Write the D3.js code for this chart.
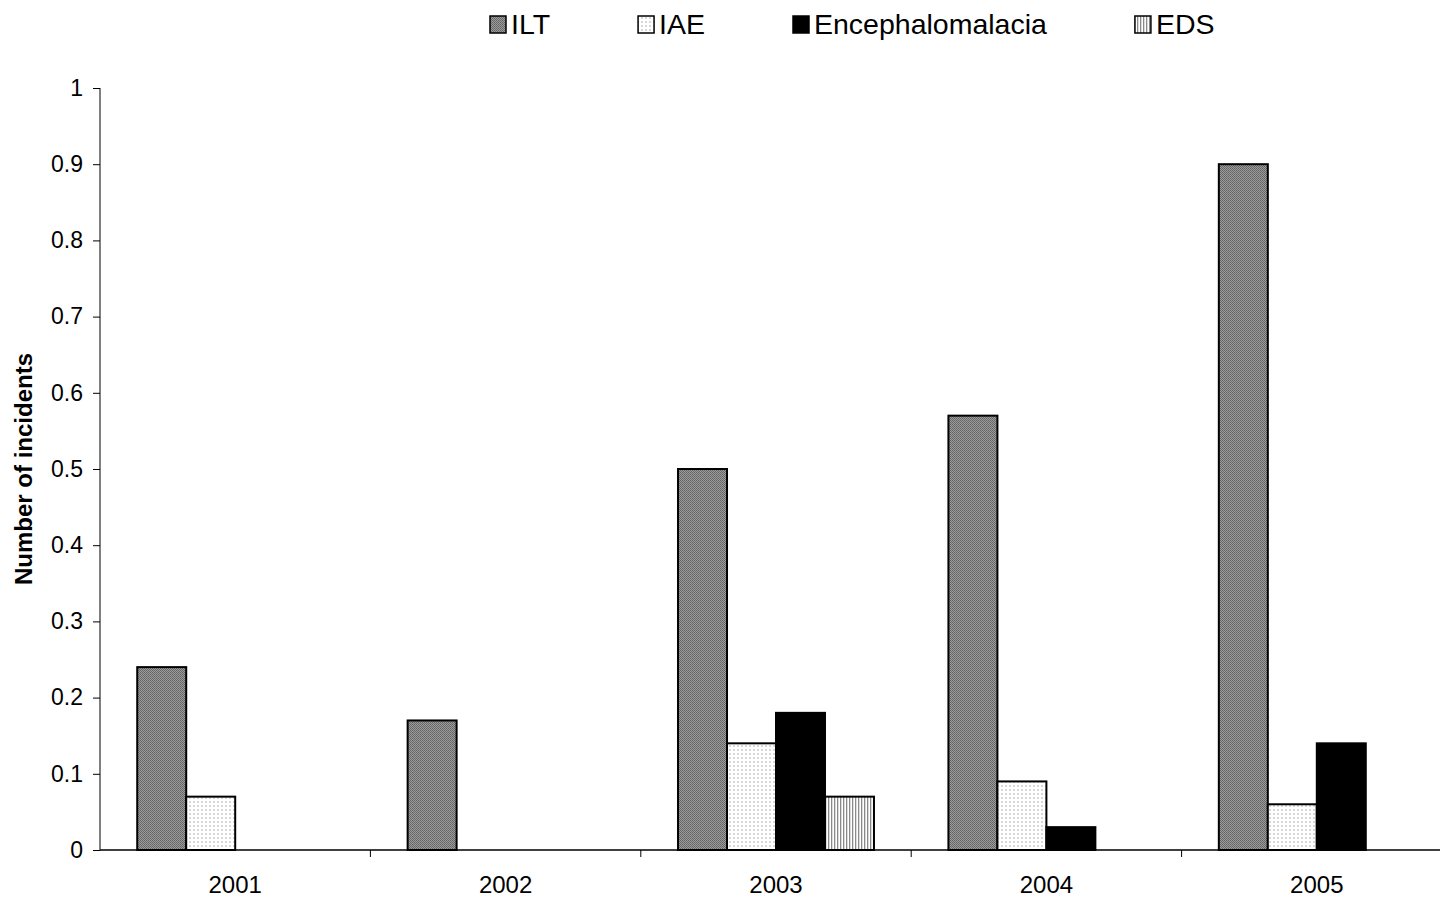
<!DOCTYPE html>
<html><head><meta charset="utf-8">
<script src="https://cdn.jsdelivr.net/npm/d3@7"></script>
<style>
html,body{margin:0;padding:0;background:#fff;}
svg{display:block;font-family:"Liberation Sans",Arial,sans-serif;}
</style></head>
<body>
<svg id="chart" width="1440" height="897"></svg>
<script>
const years = ["2001","2002","2003","2004","2005"];
const seriesNames = ["ILT","IAE","Encephalomalacia","EDS"];
const ILT = [0.24, 0.17, 0.50, 0.57, 0.90];
const IAE = [0.07, 0, 0.14, 0.09, 0.06];
const Encephalomalacia = [0, 0, 0.18, 0.03, 0.14];
const EDS = [0, 0, 0.07, 0, 0];
const yTicks = [0,0.1,0.2,0.3,0.4,0.5,0.6,0.7,0.8,0.9,1];
const yTitle = "Number of incidents";

const seriesValues = [ILT, IAE, Encephalomalacia, EDS];
const svg = d3.select("#chart");
const defs = svg.append("defs");

// Patterns
const pILT = defs.append("pattern").attr("id","pILT").attr("patternUnits","userSpaceOnUse").attr("width",2).attr("height",2);
pILT.append("rect").attr("width",2).attr("height",2).attr("fill","#9c9c9c");
pILT.append("rect").attr("x",0).attr("y",0).attr("width",1).attr("height",1).attr("fill","#626262");
pILT.append("rect").attr("x",1).attr("y",1).attr("width",1).attr("height",1).attr("fill","#6c6c6c");

const pIAE = defs.append("pattern").attr("id","pIAE").attr("patternUnits","userSpaceOnUse").attr("width",4).attr("height",4);
pIAE.append("rect").attr("width",4).attr("height",4).attr("fill","#fff");
pIAE.append("rect").attr("x",1).attr("y",1).attr("width",2).attr("height",2).attr("fill","#cfcfcf");
pIAE.append("rect").attr("x",1.5).attr("y",1.5).attr("width",1).attr("height",1).attr("fill","#f4f4f4");

const pEDS = defs.append("pattern").attr("id","pEDS").attr("patternUnits","userSpaceOnUse").attr("width",3).attr("height",3);
pEDS.append("rect").attr("width",3).attr("height",3).attr("fill","#fff");
pEDS.append("rect").attr("x",0).attr("width",1.3).attr("height",3).attr("fill","#8a8a8a");

const fills = ["url(#pILT)","url(#pIAE)","#000","url(#pEDS)"];

const x0 = d3.scaleBand().domain(years).range([100, 1452]).paddingInner(0).paddingOuter(0);
const x1 = d3.scaleBand().domain(seriesNames).range([0, x0.bandwidth()]).paddingInner(0).paddingOuter(0.76);
const y = d3.scaleLinear().domain([0,1]).range([850, 88]);

// Bars
const g = svg.append("g");
years.forEach((yr, i) => {
  seriesNames.forEach((s, j) => {
    const v = seriesValues[j][i];
    if (!v) return;
    g.append("rect")
      .attr("x", x0(yr) + x1(s))
      .attr("y", y(v))
      .attr("width", x1.bandwidth())
      .attr("height", y(0) - y(v))
      .attr("fill", fills[j])
      .attr("stroke", "#000")
      .attr("stroke-width", 2);
  });
});

// Y axis
const yAxis = svg.append("g").attr("transform","translate(100,0)")
  .call(d3.axisLeft(y).tickValues(yTicks).tickSize(7).tickPadding(10).tickFormat(d=>d3.format("~g")(d)));
yAxis.select(".domain").attr("stroke","#808080").attr("stroke-width",2).attr("d","M0,"+y(1)+"V"+y(0));
yAxis.selectAll(".tick line").attr("stroke","#000").attr("stroke-width",1);
yAxis.selectAll(".tick text").attr("font-size",23).attr("fill","#000").attr("font-family","Liberation Sans, Arial, sans-serif");

// X axis
const xAxis = svg.append("g").attr("transform","translate(0,850)")
  .call(d3.axisBottom(x0).tickSize(0).tickPadding(26));
xAxis.select(".domain").attr("stroke","#000").attr("stroke-width",1.5).attr("d","M100,0H1452");
xAxis.selectAll(".tick text").attr("font-size",24).attr("fill","#000").attr("font-family","Liberation Sans, Arial, sans-serif");
xAxis.selectAll(".sep").data(years.slice(1)).enter().append("line")
  .attr("class","sep").attr("x1",d=>x0(d)).attr("x2",d=>x0(d)).attr("y1",0).attr("y2",7)
  .attr("stroke","#000").attr("stroke-width",1);

// Y title
svg.append("text").attr("transform","translate(32,469) rotate(-90)")
  .attr("text-anchor","middle").attr("font-size",24).attr("font-weight","bold").text(yTitle);

// Legend
const leg = svg.append("g");
let lx = 490;
seriesNames.forEach((s, j) => {
  leg.append("rect").attr("x", lx).attr("y", 16).attr("width", 16).attr("height", 17)
    .attr("fill", fills[j]).attr("stroke","#000").attr("stroke-width",1.5);
  const t = leg.append("text").attr("x", lx + 21).attr("y", 34).attr("font-size",28.5).text(s);
  lx = lx + 21 + t.node().getComputedTextLength() + 88;
});
</script>
</body></html>
